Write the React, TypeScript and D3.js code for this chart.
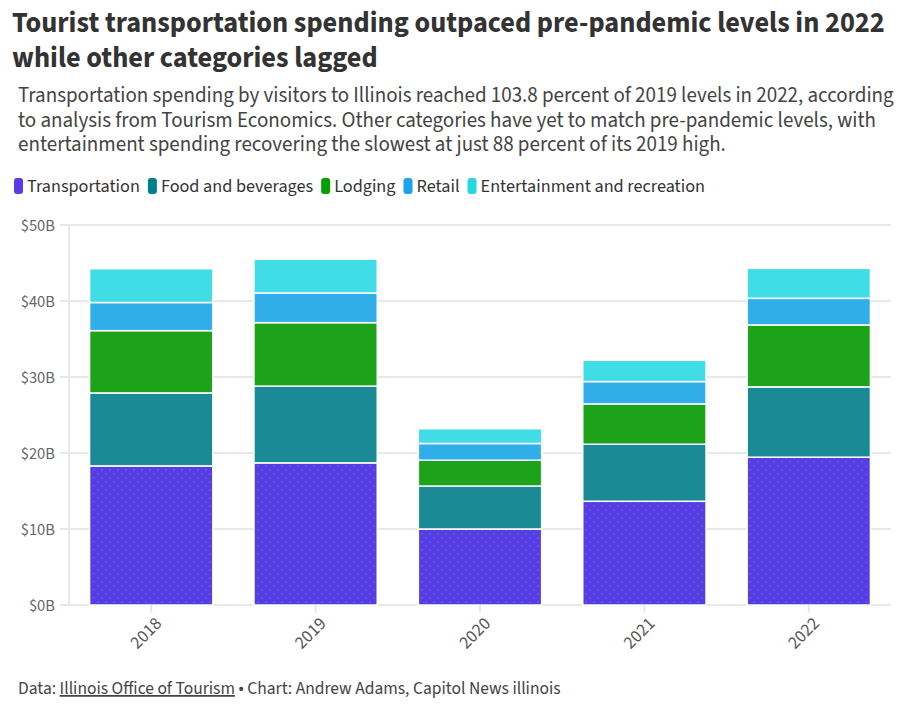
import React, { useEffect, useRef } from "react";
import * as d3 from "d3";

// Visitor spending in Illinois, billions of dollars
const years = ["2018", "2019", "2020", "2021", "2022"];
const transportation = [18.3, 18.7, 10.0, 13.65, 19.45];
const foodAndBeverages = [9.6, 10.1, 5.65, 7.5, 9.25];
const lodging = [8.2, 8.35, 3.4, 5.3, 8.15];
const retail = [3.7, 3.9, 2.2, 2.95, 3.5];
const entertainment = [4.45, 4.45, 1.95, 2.8, 3.95];

const seriesNames = [
  "Transportation",
  "Food and beverages",
  "Lodging",
  "Retail",
  "Entertainment and recreation",
];
const seriesValues = [transportation, foodAndBeverages, lodging, retail, entertainment];
const barColors = ["#563ee4", "#1a8a97", "#1ca31a", "#30aeea", "#40dde6"];
const legendColors = ["#5a3be6", "#00808f", "#00a000", "#1aa3ea", "#22d8e3"];
const yTicks = [0, 10, 20, 30, 40, 50];

const FONT = "'Source Sans Pro', 'Source Sans 3', Lato, 'Noto Sans', sans-serif";

const App = () => {
  const svgRef = useRef<SVGSVGElement>(null);

  useEffect(() => {
    document.body.style.margin = "0";
    const width = 916;
    const height = 705;
    const margin = { top: 225, right: 25, bottom: 100, left: 69 };

    const svg = d3.select(svgRef.current);
    svg.selectAll("*").remove();
    svg.attr("width", width).attr("height", height).style("font-family", FONT);

    // Dotted texture used on the transportation segments
    const defs = svg.append("defs");
    const pattern = defs
      .append("pattern")
      .attr("id", "dots")
      .attr("width", 8)
      .attr("height", 8)
      .attr("patternUnits", "userSpaceOnUse");
    pattern.append("rect").attr("width", 8).attr("height", 8).attr("fill", barColors[0]);
    pattern.append("circle").attr("cx", 2).attr("cy", 2).attr("r", 0.8).attr("fill", "#7462ee");
    pattern.append("circle").attr("cx", 6).attr("cy", 6).attr("r", 0.8).attr("fill", "#7462ee");

    // Title and subtitle
    const title = [
      "Tourist transportation spending outpaced pre-pandemic levels in 2022",
      "while other categories lagged",
    ];
    svg
      .append("g")
      .selectAll("text")
      .data(title)
      .enter()
      .append("text")
      .attr("x", 12)
      .attr("y", (d, i) => 32 + i * 34.5)
      .style("font-size", "28.3px")
      .style("font-weight", "700")
      .style("fill", "#333333")
      .text((d) => d);

    const subtitle = [
      "Transportation spending by visitors to Illinois reached 103.8 percent of 2019 levels in 2022, according",
      "to analysis from Tourism Economics. Other categories have yet to match pre-pandemic levels, with",
      "entertainment spending recovering the slowest at just 88 percent of its 2019 high.",
    ];
    svg
      .append("g")
      .selectAll("text")
      .data(subtitle)
      .enter()
      .append("text")
      .attr("x", 18)
      .attr("y", (d, i) => 102 + i * 24.5)
      .style("font-size", "21px")
      .style("fill", "#444444")
      .text((d) => d);

    // Legend
    const legend = svg.append("g").attr("transform", "translate(14,186)");
    let lx = 0;
    seriesNames.forEach((name, i) => {
      const item = legend.append("g").attr("transform", `translate(${lx},0)`);
      item
        .append("rect")
        .attr("x", 0)
        .attr("y", -8)
        .attr("width", 9)
        .attr("height", 16)
        .attr("rx", 3)
        .attr("fill", legendColors[i]);
      const label = item
        .append("text")
        .attr("x", 13)
        .attr("dy", "0.35em")
        .style("font-size", "18.2px")
        .style("fill", "#333333")
        .text(name);
      const w = (label.node() as SVGTextElement).getComputedTextLength();
      lx += 13 + w + 8;
    });

    // Scales
    const x = d3
      .scaleBand()
      .domain(years)
      .range([margin.left, width - margin.right])
      .paddingInner(0.25)
      .paddingOuter(0.125);

    const y = d3
      .scaleLinear()
      .domain([0, 50])
      .range([height - margin.bottom, margin.top]);

    // Grid
    svg
      .append("g")
      .selectAll("line")
      .data(yTicks)
      .enter()
      .append("line")
      .attr("x1", margin.left - 9)
      .attr("x2", width - margin.right)
      .attr("y1", (d) => y(d))
      .attr("y2", (d) => y(d))
      .style("stroke", "#e8e8e8")
      .style("stroke-width", 2);

    svg
      .append("line")
      .attr("x1", margin.left)
      .attr("x2", margin.left)
      .attr("y1", y(50))
      .attr("y2", y(0))
      .style("stroke", "#e8e8e8")
      .style("stroke-width", 2);

    svg
      .append("g")
      .selectAll("text")
      .data(yTicks)
      .enter()
      .append("text")
      .attr("x", margin.left - 14)
      .attr("y", (d) => y(d))
      .attr("dy", "0.35em")
      .attr("text-anchor", "end")
      .style("font-size", "16.5px")
      .style("fill", "#666666")
      .text((d) => `$${d}B`);

    // Stacked bars
    const table = years.map((year, j) => {
      const row: any = { year };
      seriesNames.forEach((name, i) => (row[name] = seriesValues[i][j]));
      return row;
    });
    const stacked = d3.stack().keys(seriesNames)(table);

    svg
      .append("g")
      .selectAll("g")
      .data(stacked)
      .enter()
      .append("g")
      .attr("fill", (d, i) => (i === 0 ? "url(#dots)" : barColors[i]))
      .selectAll("rect")
      .data((d) => d)
      .enter()
      .append("rect")
      .attr("x", (d: any) => x(d.data.year))
      .attr("y", (d) => y(d[1]))
      .attr("width", x.bandwidth())
      .attr("height", (d) => y(d[0]) - y(d[1]))
      .style("stroke", "#ffffff")
      .style("stroke-width", 1.5);

    // X axis ticks and rotated labels
    const xTicks = svg.append("g");
    years.forEach((year) => {
      const cx = x(year)! + x.bandwidth() / 2;
      xTicks
        .append("line")
        .attr("x1", cx)
        .attr("x2", cx)
        .attr("y1", y(0))
        .attr("y2", y(0) + 8)
        .style("stroke", "#e8e8e8")
        .style("stroke-width", 2);
      xTicks
        .append("text")
        .attr("transform", `translate(${cx + 7},${y(0) + 15}) rotate(-45)`)
        .attr("text-anchor", "end")
        .attr("dy", "0.35em")
        .style("font-size", "18px")
        .style("fill", "#555555")
        .text(year);
    });

    // Footer
    const footer = svg
      .append("text")
      .attr("x", 18)
      .attr("y", 694)
      .style("font-size", "17.5px")
      .style("fill", "#444444");
    footer.append("tspan").text("Data: ");
    footer
      .append("tspan")
      .style("text-decoration", "underline")
      .text("Illinois Office of Tourism");
    footer.append("tspan").text(" • Chart: Andrew Adams, Capitol News illinois");
  }, []);

  return (
    <div style={{ position: "absolute", left: 0, top: 0, background: "#ffffff" }}>
      <svg ref={svgRef} />
    </div>
  );
};

export default App;
